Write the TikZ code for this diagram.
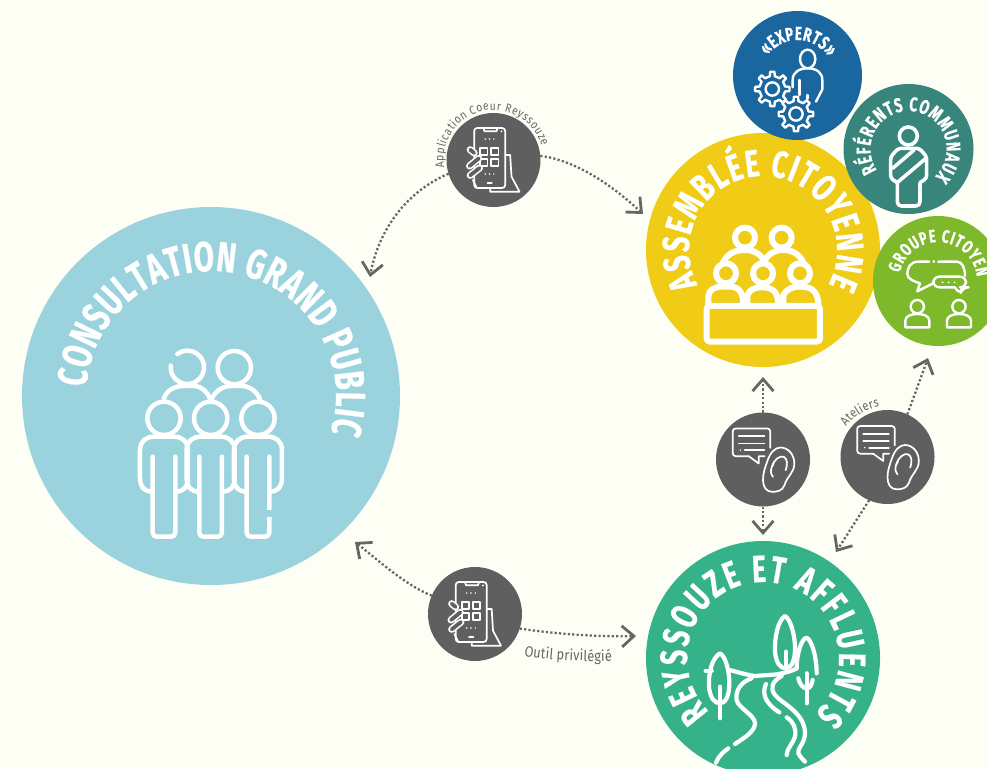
\documentclass[tikz,border=0pt]{standalone}
\usepackage{fontspec}
\usetikzlibrary{decorations.text,arrows.meta}
\newfontfamily\titlefont[FakeStretch=0.7,FakeBold=0.5]{Fira Sans}
\newfontfamily\smallfont[FakeStretch=0.85]{Fira Sans}
\definecolor{bgcream}{HTML}{FEFFF4}
\definecolor{cLight}{HTML}{9AD3DE}
\definecolor{cYellow}{HTML}{F0CC17}
\definecolor{cBlue}{HTML}{1A669F}
\definecolor{cTeal}{HTML}{38857B}
\definecolor{cGreen}{HTML}{7EB82B}
\definecolor{cEmerald}{HTML}{36B28A}
\definecolor{cGray}{HTML}{5F5F5F}
\definecolor{cLink}{HTML}{666666}
\newcommand\arclabel[7]{\path[decorate,decoration={text along path,text align={fit to path},text={|#6|#7}}]
  ({#1+#3*cos(#4)},{#2+#3*sin(#4)}) arc (#4:#5:#3);}
\newcommand\bigT{\color{white}\titlefont\bfseries}
\tikzset{
  disc/.style={circle,inner sep=0pt,outer sep=0pt,minimum size=#1},
  hub/.style={disc=94pt,fill=cGray},
  link/.style={draw=cLink,line width=2.3pt,dash pattern=on 2.2pt off 2.2pt,
    -{Straight Barb[length=12pt,width=21pt,line width=2.8pt]}},
  icon/.style={draw=white,line cap=round,line join=round,line width=#1},
  phoneicon/.pic={
    \begin{scope}[icon=1.7pt]
    \draw[rounded corners=3pt] (-58,-96) rectangle (35,84);
    \draw (-30,-96) -- (-27,-86) -- (9,-86) -- (12,-96);
    \fill[white] (24,-86) circle (3);
    \foreach \x in {-25,-12,1}{\fill[white] (\x,-63) circle (2.5);\fill[white] (\x,42) circle (2.5);}
    \draw (-40,-36) rectangle (-18,-14);
    \draw (-7,-36) rectangle (15,-14);
    \draw (-40,-4) rectangle (-18,18);
    \draw (-7,-4) rectangle (15,18);
    \draw (-18,69) -- (-5,69);
    \draw (35,-15) -- (50,-15) -- (54,50) -- (78,95) -- (-10,95) -- (-10,84);
    \draw (-62,60) -- (-50,84);
    \foreach \a/\b/\c/\d in {-70/-31/-58/-21,-72/18/-44/-5,-70/46/-42/24}{
      \draw[line width=7pt] (\a,\b) -- (\c,\d);
      \draw[draw=cGray,line width=3.8pt] (\a,\b) -- (\c,\d);}
    \end{scope}},
  earicon/.pic={
    \begin{scope}[icon=1.7pt]
    \draw[rounded corners=3pt] (-43,-10) -- (-91,-10) -- (-91,-93) -- (22,-93) -- (22,-35);
    \draw (-43,-10) -- (-13,12) -- (-13,-10) -- (5,-10);
    \draw (-73,-70) -- (4,-70);
    \draw (-73,-48) -- (4,-48);
    \fill[white] (-68,-28) circle (2.5);
    \draw (-55,-28) -- (4,-28);
    \draw (14,2) .. controls (22,-22) and (38,-36) .. (52,-36) .. controls (78,-36) and (94,-12) .. (94,12) .. controls (94,40) and (72,50) .. (64,78) .. controls (58,95) and (40,97) .. (27,97) .. controls (10,97) and (0,82) .. (0,62) .. controls (0,40) and (6,25) .. (14,2) -- cycle;
    \draw (27,22) .. controls (32,0) and (50,-12) .. (62,-8) .. controls (74,-2) and (74,16) .. (68,32);
    \draw (32,12) .. controls (20,30) and (22,42) .. (30,52);
    \end{scope}},
  personfig/.pic={
    \draw (0,0) circle (50);
    \draw (-34,220) .. controls (-60,220) and (-72,205) .. (-72,180) -- (-72,95) .. controls (-72,70) and (-55,55) .. (-30,55) -- (30,55) .. controls (55,55) and (72,70) .. (72,95) -- (72,180) .. controls (72,205) and (60,220) .. (34,220);
    \draw[rounded corners=4pt] (34,115) -- (34,355) -- (-34,355) -- (-34,115);},
  gearwheel/.pic={
    \draw (0,0) circle (20);
    \foreach \a in {0,45,...,315}{
      \draw ({\a-11}:39) -- ({\a-7}:52) -- ({\a+7}:52) -- ({\a+11}:39) -- ({\a+34}:39);}},
  seated/.pic={
    \draw[fill=cYellow] (0,0) circle (30);}
}
\begin{document}
\begin{tikzpicture}[x=1pt,y=-1pt]
\useasboundingbox (0,0) rectangle (987,768);
\fill[bgcream] (0,0) rectangle (987,768);
\clip (0,0) rectangle (987,768);
% main discs
\node[disc=378pt,fill=cLight] (conso) at (211,396) {};
\node[disc=234pt,fill=cYellow] (assemblee) at (763,250) {};
\node[disc=129pt,fill=cBlue] (experts) at (797.5,75.5) {};
\node[disc=130pt,fill=cTeal] (referents) at (908.5,149) {};
\node[disc=130pt,fill=cGreen] (groupe) at (938,281) {};
\node[disc=234pt,fill=cEmerald] (reyssouze) at (763,658) {};
% hubs
\node[hub] (appTop) at (493.5,160) {};
\node[hub] (appBot) at (475,614) {};
\node[hub] (earA) at (763,459.5) {};
\node[hub] (earB) at (887.5,457) {};
% free arrow ends
\coordinate (tipA) at (370,277);
\coordinate (tipB) at (643,214);
\coordinate (tipC) at (355,542);
\coordinate (tipD) at (636,636);
\coordinate (tipE) at (763,377);
\coordinate (tipF) at (763,535);
\coordinate (tipG) at (928,358);
\coordinate (tipH) at (836,552);
% connectors
\draw[link] (appTop.197) .. controls (405,192) and (378,232) .. (tipA);
\draw[link] (appTop.5) .. controls (575,160) and (612,185) .. (tipB);
\draw[link] (appBot.157) .. controls (405,585) and (378,560) .. (tipC);
\draw[link] (appBot.-18) .. controls (555,634) and (600,637) .. (tipD);
\draw[link] (earA) -- (tipE);
\draw[link] (earA) -- (tipF);
\draw[link] (earB.65) -- (tipG);
\draw[link] (earB.-113) -- (tipH);
% hub icons
\pic[scale=0.3333] at (appTop) {phoneicon};
\pic[scale=0.3333] at (appBot) {phoneicon};
\pic[scale=0.3333] at (earA) {earicon};
\pic[scale=0.3333] at (earB) {earicon};
% labels along circles
\arclabel{211}{396}{125}{184}{377}{\fontsize{42}{42}\selectfont\bigT}{CONSULTATION GRAND PUBLIC }
\arclabel{763}{250}{74}{152}{388}{\fontsize{38}{38}\selectfont\bigT}{ASSEMBLÉE CITOYENNE}
\arclabel{763}{658}{76}{135}{407}{\fontsize{38}{38}\selectfont\bigT}{REYSSOUZE ET AFFLUENTS}
\arclabel{797.5}{75.5}{35.5}{214}{329}{\fontsize{19}{19}\selectfont\bigT}{«EXPERTS»}
\arclabel{908.5}{149}{38}{146}{406}{\fontsize{20}{20}\selectfont\bigT}{RÉFÉRENTS COMMUNAUX}
\arclabel{938}{281}{39}{192}{354}{\fontsize{18}{18}\selectfont\bigT}{GROUPE CITOYEN}
\arclabel{493.5}{160}{50}{171}{344}{\fontsize{12}{12}\selectfont\color{cLink}\smallfont}{Application Coeur Reyssouze}
\arclabel{887.5}{457}{51}{216}{261}{\fontsize{13}{13}\selectfont\color{cLink}\smallfont}{Ateliers}
\path[decorate,decoration={text along path,text align={fit to path},text={|\fontsize{15}{15}\selectfont\color{cLink}\smallfont|Outil privilégié}}]
  (524,656) .. controls (550,660) and (585,662) .. (612,661);
% crowd icon
\begin{scope}[shift={(100,330)},scale=0.3333,icon=4.5pt]
  \draw (232,72) arc (233:546:50);
  \draw (403,113) circle (50);
  \draw (192,205) .. controls (200,180) and (225,168) .. (250,168) -- (280,168) .. controls (305,168) and (322,185) .. (330,207);
  \draw (335,207) .. controls (345,185) and (365,168) .. (395,168) -- (425,168) .. controls (450,168) and (470,185) .. (480,207);
  \pic[scale=0.3333] at (192,265) {personfig};
  \pic[scale=0.3333] at (332,265) {personfig};
  \pic[scale=0.3333] at (474,265) {personfig};
  \draw[cLight,line width=7pt,line cap=butt] (508,540) -- (508,562);
\end{scope}
% assembly icon
\begin{scope}[shift={(640,0)},scale=0.3333,icon=6pt]
  \draw (315,713) circle (30);
  \draw (425,713) circle (30);
  \draw (245,800) .. controls (255,765) and (280,750) .. (315,750) .. controls (345,750) and (365,765) .. (372,785);
  \draw (372,785) .. controls (385,760) and (405,750) .. (430,750) .. controls (465,750) and (485,770) .. (495,800);
  \pic[scale=0.3333] at (258,820) {seated};
  \pic[scale=0.3333] at (369,820) {seated};
  \pic[scale=0.3333] at (480,820) {seated};
  \draw (205,915) -- (205,890) .. controls (205,870) and (225,860) .. (245,860) -- (270,860) .. controls (295,860) and (310,875) .. (310,915);
  \draw (322,915) -- (322,885) .. controls (330,868) and (345,862) .. (365,862) .. controls (390,862) and (415,868) .. (415,915);
  \draw (430,915) -- (430,885) .. controls (440,868) and (455,860) .. (480,860) .. controls (510,860) and (535,870) .. (535,915);
  \draw[rounded corners=3pt] (200,918) rectangle (540,1025);
\end{scope}
% experts icon
\begin{scope}[shift={(640,0)},scale=0.3333,icon=2.4pt]
  \draw (503,177) ellipse [x radius=23,y radius=28];
  \draw (458,262) -- (458,240) .. controls (458,215) and (480,205) .. (503,205) .. controls (530,205) and (547,218) .. (547,240) -- (547,268) -- (528,305);
  \draw (478,240) -- (478,285);
  \draw (503,285) -- (503,296);
  \pic[scale=0.3333] at (397,267) {gearwheel};
  \pic[scale=0.3333] at (468,342) {gearwheel};
\end{scope}
% representative icon
\begin{scope}[shift={(640,0)},scale=0.3333,icon=3.6pt]
  \draw (805,408) circle (27);
  \draw[rounded corners=4pt] (772,550) -- (772,618) -- (840,618) -- (840,550);
  \draw[rounded corners=3pt] (772,548) -- (752,535) -- (752,470) -- (775,445) -- (838,445) -- (860,470) -- (860,535) -- (840,548);
  \draw (758,505) -- (822,450);
  \draw (775,545) -- (858,475);
\end{scope}
% citizen group icon
\begin{scope}[shift={(640,0)},scale=0.3333,icon=2.4pt]
  \draw (868,785) -- (835,785) .. controls (810,785) and (802,805) .. (802,822) .. controls (802,838) and (825,845) .. (840,850) -- (832,874) -- (880,850);
  \draw (895,785) -- (950,785) .. controls (968,785) and (975,805) .. (975,828);
  \draw (881,785) -- (882,785);
  \draw[rounded corners=6pt] (945,862) -- (880,862) -- (880,830) -- (978,830) -- (978,862) -- (968,862) -- (960,884) -- (945,862);
  \foreach \x in {908,926,944}{\fill[white] (\x,847) circle (3);}
  \foreach \s in {0,125}{
    \draw (832+\s,920) circle (20);
    \draw (796+\s,982) -- (796+\s,962) .. controls (796+\s,948) and (815+\s,942) .. (832+\s,942) .. controls (850+\s,942) and (868+\s,948) .. (868+\s,962) -- (868+\s,982) -- cycle;}
\end{scope}
% river icon
\begin{scope}[shift={(640,540)},scale=0.3333,icon=4.2pt]
  \draw (240,340) .. controls (215,355) and (205,400) .. (207,440) .. controls (210,475) and (225,490) .. (240,490) .. controls (255,490) and (268,470) .. (268,430) .. controls (268,395) and (258,350) .. (240,340) -- cycle;
  \draw (240,440) -- (240,535);
  \draw (435,228) .. controls (415,240) and (403,290) .. (405,335) .. controls (408,370) and (422,385) .. (437,385) .. controls (455,385) and (465,360) .. (465,325) .. controls (465,285) and (452,238) .. (435,228) -- cycle;
  \draw (437,335) -- (437,385);
  \draw (470,385) .. controls (470,340) and (485,295) .. (500,293) .. controls (515,300) and (530,350) .. (530,400);
  \draw (475,415) .. controls (480,435) and (490,445) .. (500,445) .. controls (510,445) and (515,435) .. (518,420);
  \draw (500,400) -- (500,490);
  \draw (197,392) -- (215,392);
  \draw (268,390) .. controls (290,395) and (320,405) .. (345,408) .. controls (375,405) and (410,405) .. (425,400) .. controls (440,397) and (460,392) .. (470,385);
  \draw (335,415) .. controls (305,425) and (285,450) .. (290,480) .. controls (295,505) and (345,525) .. (345,550) .. controls (345,575) and (310,595) .. (285,612);
  \draw (265,625) .. controls (250,635) and (235,650) .. (228,668);
  \draw (378,432) .. controls (365,460) and (375,490) .. (418,517);
  \draw (440,532) .. controls (460,545) and (470,565) .. (465,590) .. controls (460,610) and (440,625) .. (440,645);
  \draw (425,408) .. controls (395,425) and (390,445) .. (405,465) .. controls (425,490) and (490,515) .. (495,575) .. controls (497,610) and (470,625) .. (475,640) .. controls (480,650) and (490,660) .. (495,665);
\end{scope}
\end{tikzpicture}
\end{document}
